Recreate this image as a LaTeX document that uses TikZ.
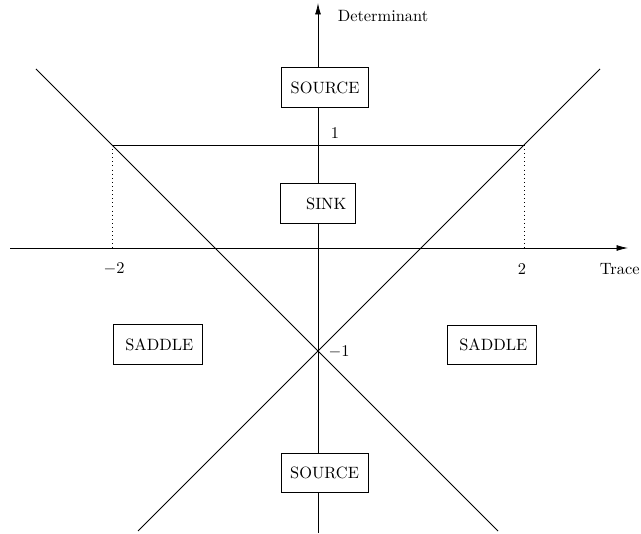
\documentclass[tikz,border=0pt]{standalone}
\usetikzlibrary{arrows.meta}
\begin{document}
\begin{tikzpicture}[x=0.61pt, y=-0.61pt,
  every path/.style={line width=0.5pt},
  region/.style={draw, line width=0.5pt, align=right, inner xsep=5.5pt, inner ysep=0pt, minimum height=24pt},
  axistip/.style={-{Latex[length=7pt,width=3.6pt]}},
  lbl/.style={inner sep=0pt}]
\useasboundingbox (0,0) rectangle (641,534);
% coordinates
\coordinate (xl) at (10,248);
\coordinate (xr) at (628,248);
\coordinate (yb) at (318,533);
\coordinate (yt) at (318,3);
\coordinate (l1a) at (36,69);
\coordinate (l1b) at (498,531);
\coordinate (l2a) at (600,69);
\coordinate (l2b) at (138,531);
\coordinate (hL) at (112,145);
\coordinate (hR) at (524,145);
\coordinate (dL) at (112,248);
\coordinate (dR) at (524,248);
% lines
\draw (l1a) -- (l1b);
\draw (l2a) -- (l2b);
\draw (hL) -- (hR);
\draw[dotted] (hL) -- (dL);
\draw[dotted] (hR) -- (dR);
% axes
\draw[axistip] (xl) -- (xr);
\draw[axistip] (yb) -- (yt);
% boxes
\node[region, fill=white, text width=42pt] (srcTop) at (325,87.5) {SOURCE};
\node[region, fill=white, text width=34.5pt] (sink) at (318,203.5) {SINK};
\node[region, fill=white, text width=43pt] (saddleL) at (158,344.5) {SADDLE};
\node[region, fill=white, text width=43pt] (saddleR) at (492,345) {SADDLE};
\node[region, fill=white, text width=42pt] (srcBot) at (324.5,473) {SOURCE};
% labels
\node[lbl] (det) at (383,16) {Determinant};
\node[lbl, anchor=east] (tr) at (640,269) {Trace};
\node[lbl] (m2) at (114,269) {$-2$};
\node[lbl] (p2) at (522,269) {$2$};
\node[lbl] (one) at (335,133) {$1$};
\node[lbl] (mone) at (339,352) {$-1$};
\end{tikzpicture}
\end{document}
